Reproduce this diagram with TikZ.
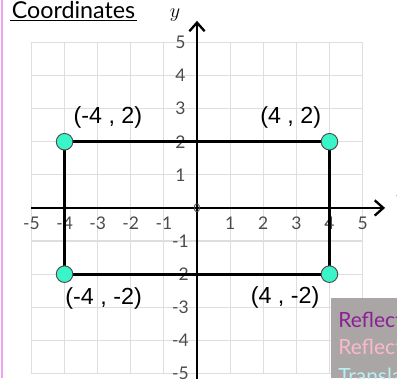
\documentclass[tikz,border=0pt]{standalone}
\usepackage{fontspec}
\setmainfont{Liberation Sans}
\newfontfamily\handfont{Lato}
\usetikzlibrary{arrows.meta}
\definecolor{gridgrey}{RGB}{222,222,222}
\definecolor{dotfill}{RGB}{58,245,200}
\definecolor{ticktext}{RGB}{75,75,75}
\definecolor{boxgrey}{RGB}{171,166,166}
\definecolor{refa}{RGB}{140,30,150}
\definecolor{refb}{RGB}{250,185,205}
\definecolor{transl}{RGB}{185,240,245}
\definecolor{edgepink}{RGB}{240,160,240}
\tikzset{gridline/.style={gridgrey,line width=1pt},
  axis/.style={line width=2pt,black,-{Straight Barb[length=2.6mm,width=4.6mm,line width=2pt]}},
  edge/.style={line width=2.4pt,black},
  dot/.style={circle,draw=black!70,fill=dotfill,line width=.8pt,minimum size=5mm,inner sep=0pt},
  ticklabel/.style={font=\handfont\fontsize{15}{15}\selectfont,text=ticktext,inner sep=0pt},
  ptlabel/.style={font=\fontsize{20}{20}\selectfont,inner sep=0pt},
  menu/.style={font=\handfont\fontsize{18}{18}\selectfont,anchor=base west,inner sep=0pt}}

\begin{document}
\begin{tikzpicture}[x=1cm,y=1cm]
\useasboundingbox (-5.95,-5.14) rectangle (6.04,6.28);
\fill[white] (-5.95,-5.14) rectangle (6.04,6.28);
\draw[edgepink,line width=1.6pt] (-5.88,-5.14) -- (-5.88,6.28);
% grid and axes
\draw[gridline] (-5,-5) grid (5,5);
\coordinate (xlo) at (-5,0);
\coordinate (xhi) at (5.68,0);
\coordinate (ylo) at (0,-5.2);
\coordinate (yhi) at (0,5.65);
\draw[axis] (xlo) -- (xhi);
\draw[axis] (ylo) -- (yhi);
\node (xname) at (6.12,0.42) {$x$};
\node[font=\fontsize{16}{16}\selectfont] (yname) at (-0.66,5.83) {$y$};
\foreach \i in {-5,-4,-3,-2,-1,1,2,3,4,5}{
  \node[ticklabel] (xt\i) at (\i,-0.45) {\i};
  \node[ticklabel] (yt\i) at (-0.5,\i) {\i};
}
\node[ticklabel,font=\handfont\fontsize{10}{10}\selectfont] (orig) at (0,0) {0};
% rectangle
\coordinate (tl) at (-4,2);
\coordinate (tr) at (4,2);
\coordinate (br) at (4,-2);
\coordinate (bl) at (-4,-2);
\draw[edge] (tl) -- (tr) -- (br) -- (bl) -- cycle;
\node[dot] (ptl) at (tl) {};
\node[dot] (ptr) at (tr) {};
\node[dot] (pbr) at (br) {};
\node[dot] (pbl) at (bl) {};
\node[ptlabel] (ltl) at (-2.69,2.72) {(-4 , 2)};
\node[ptlabel] (ltr) at (2.83,2.72) {(4 , 2)};
\node[ptlabel] (lbl) at (-2.82,-2.72) {(-4 , -2)};
\node[ptlabel] (lbr) at (2.66,-2.69) {(4 , -2)};
% title
\node[font=\handfont\fontsize{20}{20}\selectfont,inner sep=0pt] (title) at (-3.73,5.97) {Coordinates};
\draw[line width=.8pt] (-5.65,5.66) -- (-1.81,5.66);
% side menu
\begin{scope}
\clip (4.05,-2.72) rectangle (6.04,-5.14);
\fill[boxgrey] (4.05,-2.72) rectangle (6.04,-5.14);
\node[menu,text=refa] (m1) at (4.26,-3.6) {Reflection};
\node[menu,text=refb] (m2) at (4.26,-4.44) {Reflection};
\node[menu,text=transl] (m3) at (4.26,-5.29) {Translation};
\end{scope}
\end{tikzpicture}
\end{document}
